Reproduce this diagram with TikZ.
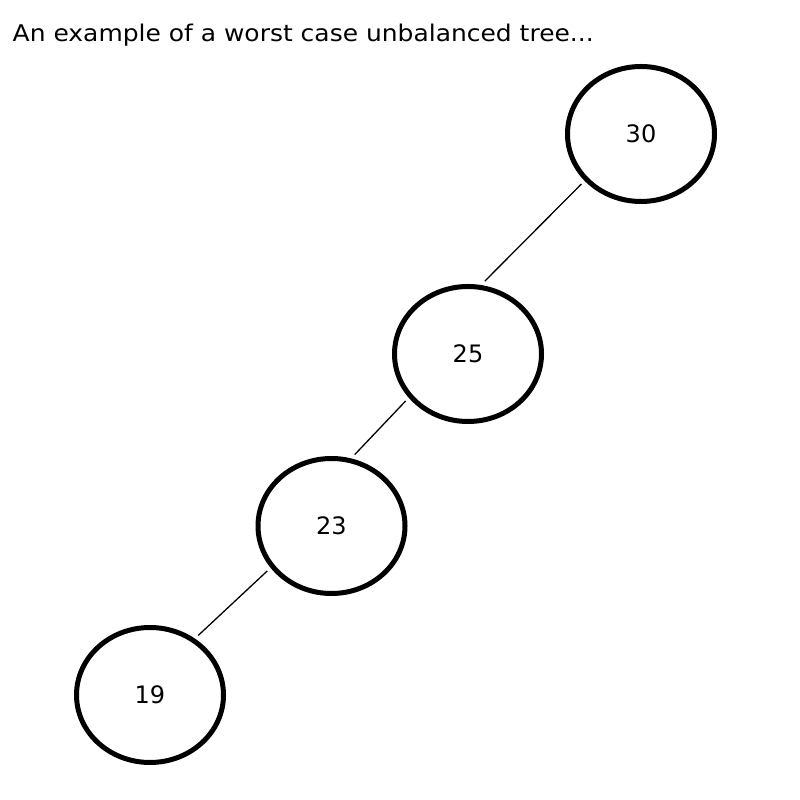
\documentclass[tikz,border=0pt]{standalone}
\usepackage{fontspec}
\setmainfont{DejaVu Sans}
\newfontfamily\titlefont[FakeStretch=1.085]{DejaVu Sans}
\usetikzlibrary{shapes.geometric}
\begin{document}
\begin{tikzpicture}[x=1pt,y=1pt,
  treenode/.style={ellipse, draw, line width=5pt, minimum width=147pt, minimum height=135pt, inner sep=0pt, outer sep=7pt, font=\fontsize{24}{28}\selectfont},
  edge/.style={line width=1.3pt},
  titletext/.style={anchor=base west, inner sep=0pt, font=\titlefont\fontsize{23}{28}\selectfont}]
\useasboundingbox (0,0) rectangle (800,800);
\node[titletext] (title) at (12.5,758) {An example of a worst case unbalanced tree...};
\node[treenode] (n30) at (641,666) {30};
\node[treenode] (n25) at (468,446) {25};
\node[treenode] (n23) at (331.5,274) {23};
\node[treenode] (n19) at (150,105) {19};
\draw[edge] (n30.220.7) -- (n25.77.1);
\draw[edge] (n25.217) -- (n23.72.2);
\draw[edge] (n23.215.4) -- (n19.51);
\end{tikzpicture}
\end{document}
